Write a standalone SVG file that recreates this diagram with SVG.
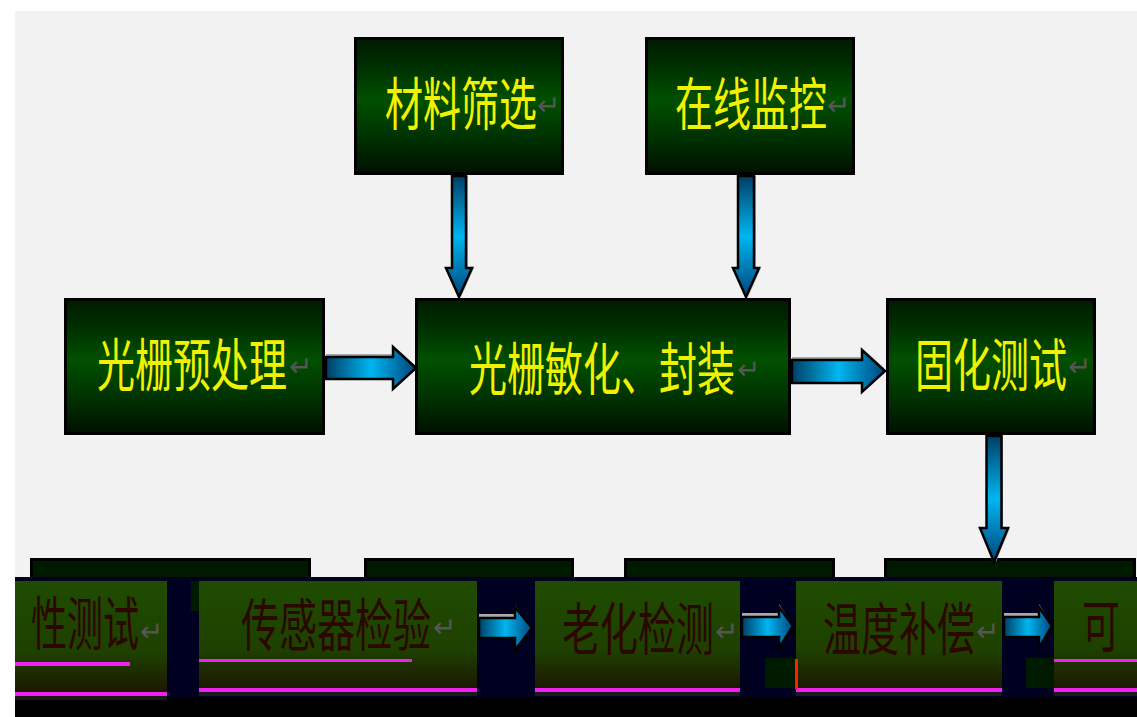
<svg xmlns="http://www.w3.org/2000/svg" width="1137" height="717" viewBox="0 0 1137 717">
<defs>
<linearGradient id="gBox" x1="0" y1="0" x2="0" y2="1">
<stop offset="0" stop-color="#001c00"/>
<stop offset="0.18" stop-color="#002c00"/>
<stop offset="0.45" stop-color="#005000"/>
<stop offset="0.75" stop-color="#003000"/>
<stop offset="1" stop-color="#001000"/>
</linearGradient>
<linearGradient id="gBot" x1="0" y1="0" x2="0" y2="1">
<stop offset="0" stop-color="#1f4c00"/>
<stop offset="0.6" stop-color="#1e4000"/>
<stop offset="1" stop-color="#1c1000"/>
</linearGradient>
<linearGradient id="gArrV" x1="0" y1="0" x2="0" y2="1">
<stop offset="0" stop-color="#003e66"/>
<stop offset="0.5" stop-color="#00b6f0"/>
<stop offset="1" stop-color="#00447a"/>
</linearGradient>
<linearGradient id="gArrH" x1="0" y1="0" x2="1" y2="0">
<stop offset="0" stop-color="#003e66"/>
<stop offset="0.5" stop-color="#00b6f0"/>
<stop offset="1" stop-color="#00447a"/>
</linearGradient>
</defs>
<style>
.box{fill:url(#gBox);stroke:#000;stroke-width:3}
.lbl{font-family:"Noto Sans CJK SC","Noto Sans",sans-serif;font-size:38px;fill:#f2f200;dominant-baseline:central}
.dlbl{font-family:"Noto Sans CJK SC","Noto Sans",sans-serif;font-size:38px;fill:#2a0800;dominant-baseline:central}
.pm{font-family:"DejaVu Sans",sans-serif;font-size:28px;fill:#555;dominant-baseline:central}
.av{fill:url(#gArrV);stroke:#000;stroke-width:2.5}
.ah{fill:url(#gArrH);stroke:#000;stroke-width:2.5}
.sh{fill:#a8a8a8}
.gb{fill:url(#gBot)}
.mg{fill:#f020f0}
.top{fill:#001a00;stroke:#000;stroke-width:3}
</style>
<rect x="0" y="0" width="1137" height="717" fill="#ffffff"/>
<rect x="15" y="11" width="1122" height="706" fill="#f2f2f2"/>

<g id="bottom-band">
<rect class="top" x="31.5" y="559.5" width="278" height="30"/>
<rect class="top" x="365.5" y="559.5" width="207" height="30"/>
<rect class="top" x="625.5" y="559.5" width="208" height="30"/>
<rect class="top" x="885.5" y="559.5" width="249" height="30"/>
<rect x="15" y="577" width="1122" height="120" fill="#000020"/>
<rect x="15" y="697" width="1122" height="20" fill="#000"/>
<rect x="191" y="581" width="8" height="30" fill="#001a00"/>
<rect x="765" y="658" width="30" height="30" fill="#001a00"/>
<rect x="1026" y="658" width="28" height="30" fill="#001a00"/>
</g>

<g id="node-cailiao">
<rect class="box" x="355.5" y="38.5" width="207" height="135"/>
<text class="lbl" transform="translate(385 100) scale(1 1.5)">材料筛选</text>
<text class="pm" x="537" y="105">↵</text>
</g>
<g id="node-zaixian">
<rect class="box" x="646.5" y="38.5" width="207" height="135"/>
<text class="lbl" transform="translate(675 100) scale(1 1.5)">在线监控</text>
<text class="pm" x="827" y="105">↵</text>
</g>
<g id="node-yuchuli">
<rect class="box" x="65.5" y="299.5" width="258" height="134"/>
<text class="lbl" transform="translate(97 361) scale(1 1.5)">光栅预处理</text>
<text class="pm" x="289" y="366">↵</text>
</g>
<g id="node-minhua">
<rect class="box" x="416.5" y="299.5" width="373" height="134"/>
<text class="lbl" transform="translate(469 365) scale(1 1.5)">光栅敏化、封装</text>
<text class="pm" x="737" y="369">↵</text>
</g>
<g id="node-guhua">
<rect class="box" x="887.5" y="299.5" width="207" height="134"/>
<text class="lbl" transform="translate(915 361) scale(1 1.5)">固化测试</text>
<text class="pm" x="1068" y="366">↵</text>
</g>

<g id="node-xingceshi">
<rect class="gb" x="15" y="581" width="152" height="119"/>
<rect class="mg" x="15" y="662" width="115" height="4"/>
<rect class="mg" x="15" y="692" width="152" height="4"/>
<rect x="15" y="696" width="152" height="4" fill="#1a1a1a"/>
<text class="dlbl" style="font-size:36px" transform="translate(31 620) scale(1 1.6)">性测试</text>
<text class="pm" x="140" y="631">↵</text>
</g>
<g id="node-chuanganqi">
<rect class="gb" x="199" y="581" width="278" height="115"/>
<rect class="mg" x="199" y="659" width="213" height="3"/>
<rect class="mg" x="199" y="688" width="278" height="4"/>
<rect x="199" y="692" width="278" height="4" fill="#1a1a1a"/>
<text class="dlbl" transform="translate(241 621) scale(1 1.5)">传感器检验</text>
<text class="pm" x="433" y="627">↵</text>
</g>
<g id="node-laohua">
<rect class="gb" x="535" y="581" width="205" height="115"/>
<rect class="mg" x="535" y="688" width="205" height="4"/>
<rect x="535" y="692" width="205" height="4" fill="#1a1a1a"/>
<text class="dlbl" transform="translate(562 625) scale(1 1.5)">老化检测</text>
<text class="pm" x="715" y="631">↵</text>
</g>
<g id="node-wendu">
<rect class="gb" x="796" y="581" width="206" height="115"/>
<rect class="mg" x="796" y="688" width="206" height="4"/>
<rect x="796" y="692" width="206" height="4" fill="#1a1a1a"/>
<rect x="795" y="659" width="3" height="30" fill="#ff2000"/>
<text class="dlbl" transform="translate(823 625) scale(1 1.5)">温度补偿</text>
<text class="pm" x="976" y="631">↵</text>
</g>
<g id="node-kekao">
<rect class="gb" x="1054" y="581" width="83" height="115"/>
<rect class="mg" x="1054" y="659" width="83" height="3"/>
<rect class="mg" x="1054" y="688" width="83" height="4"/>
<rect x="1054" y="692" width="83" height="4" fill="#1a1a1a"/>
<text class="dlbl" transform="translate(1082 622) scale(1 1.5)">可</text>
</g>

<g id="connectors">
<path class="sh" d="M454 176 L468 176 L468 268 L474 268 L461 297 L448 268 L454 268 Z"/>
<path class="av" d="M452 176 L466 176 L466 268 L472 268 L459 297 L446 268 L452 268 Z"/>
<path class="sh" d="M740 176 L756 176 L756 268 L761 268 L748 297 L735 268 L740 268 Z"/>
<path class="av" d="M738 176 L754 176 L754 268 L759 268 L746 297 L733 268 L738 268 Z"/>
<path class="sh" d="M988 436 L1003 436 L1003 528 L1010 528 L996 562 L982 528 L988 528 Z"/>
<path class="av" d="M986.5 436 L1001.5 436 L1001.5 528 L1008 528 L994 562 L980 528 L986.5 528 Z"/>
<path class="sh" d="M326 354 L392 354 L392 344 L415 365 L392 386 L392 376 L326 376 Z"/>
<path class="ah" d="M326 357 L393 357 L393 347 L416 368 L393 389 L393 379 L326 379 Z"/>
<path class="sh" d="M792 357 L861 357 L861 347 L884 368 L861 389 L861 380 L792 380 Z"/>
<path class="ah" d="M792 360 L862 360 L862 350 L885 371 L862 392 L862 383 L792 383 Z"/>
<path class="sh" d="M479 614 L515 614 L515 605 L531 626 L515 647 L515 634 L479 634 Z"/>
<path class="ah" d="M479 618 L515 618 L515 607 L532 628 L515 650 L515 638 L479 638 Z"/>
<path class="sh" d="M742 613 L779 613 L779 604 L792 624 L779 645 L779 634 L742 634 Z"/>
<path class="ah" d="M742 617 L779 617 L779 607 L793 626 L779 648 L779 637 L742 637 Z"/>
<path class="sh" d="M1004 613 L1039 613 L1039 604 L1051 624 L1039 645 L1039 634 L1004 634 Z"/>
<path class="ah" d="M1004 617 L1039 617 L1039 607 L1052 626 L1039 648 L1039 637 L1004 637 Z"/>
</g>
</svg>
